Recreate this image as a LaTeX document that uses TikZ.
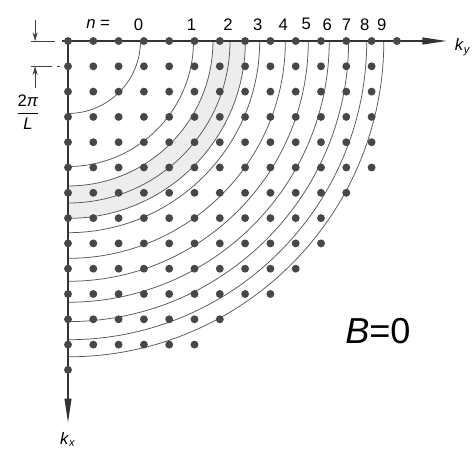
\documentclass[tikz,border=0pt]{standalone}
\usepackage{amsmath}
\usepackage{fontspec}
\setmainfont{Liberation Sans}
\usetikzlibrary{arrows.meta}

\begin{document}
\begin{tikzpicture}[
          x=0.64cm, y=0.64cm,
          lbl/.style={font=\fontsize{12}{14}\selectfont, inner sep=0pt},
          axis/.style={line width=1.3pt, draw=black!80, -{Triangle[length=0.62cm,width=0.17cm]}},
          level/.style={line width=0.55pt, draw=black!65},
          dot/.style={circle, fill=black!72, inner sep=0pt, minimum size=0.2cm},
          dim/.style={line width=0.5pt, draw=black!75},
          dimarrow/.style={dim, -{Stealth[length=2.2mm,width=1.3mm]}}
      ]
        \useasboundingbox (-2.688,1.621) rectangle (16.008,-16.68);
        % shaded shell round n = 2
        \fill[black!7] (5.73,0) arc[start angle=0,end angle=-90,radius=5.73]
          -- (0,-7.01) arc[start angle=-90,end angle=0,radius=7.01] -- cycle;
        \draw[level] (5.73,0) arc[start angle=0,end angle=-90,radius=5.73];
        \draw[level] (7.01,0) arc[start angle=0,end angle=-90,radius=7.01];
        % quarter circles
        \foreach \n in {0,...,9} {
          \pgfmathsetmacro{\r}{4.05*sqrt(\n+0.5)}
          \draw[level] (\r,0) arc[start angle=0,end angle=-90,radius=\r];
          \node[lbl] (n\n) at ({\r-0.08},0.66) {\n};
        }
        \node[lbl] (neq) at (1.19,0.66) {\textit{n} =};
        % axes
        \coordinate (ky0) at (-0.24,0);
        \coordinate (kyend) at (14.98,0);
        \coordinate (kx0) at (0,0);
        \coordinate (kxend) at (0,-15.1);
        \draw[axis] (ky0) -- (kyend);
        \draw[axis] (kx0) -- (kxend);
        \node[lbl] (ky) at (15.6,-0.25) {\textit{k}\textsubscript{\textit{y}}};
        \node[lbl] (kx) at (0,-15.75) {\textit{k}\textsubscript{\textit{x}}};
        % lattice points
        \foreach \i in {0,...,13}
          \foreach \j in {0,...,13} {
            \pgfmathtruncatemacro{\d}{\i*\i+\j*\j}
            \ifnum\d<170 \node[dot] (p\i-\j) at (\i,-\j) {}; \fi
          }
        % spacing marker
        \coordinate (tA) at (-1.46,0);
        \coordinate (tB) at (-0.51,0);
        \coordinate (bA) at (-1.46,-1);
        \coordinate (bB) at (-0.63,-1);
        \coordinate (bC) at (-0.43,-1);
        \coordinate (bD) at (-0.30,-1);
        \coordinate (aTop) at (-1.30,0.85);
        \coordinate (aT) at (-1.30,0);
        \coordinate (aBot) at (-1.30,-1.85);
        \coordinate (aB) at (-1.30,-1);
        \draw[dim] (tA) -- (tB);
        \draw[dim] (bA) -- (bB);
        \draw[dim] (bC) -- (bD);
        \draw[dimarrow] (aTop) -- (aT);
        \draw[dimarrow] (aBot) -- (aB);
        \node[lbl] (dk) at (-1.58,-2.8) {$\dfrac{\mbox{2\textit{π}}}{\mbox{\textit{L}}}$};
        \node[font=\fontsize{26}{30}\selectfont, inner sep=0pt] (bzero) at (12.25,-11.45) {\textit{B}=0};
      \end{tikzpicture}
\end{document}
